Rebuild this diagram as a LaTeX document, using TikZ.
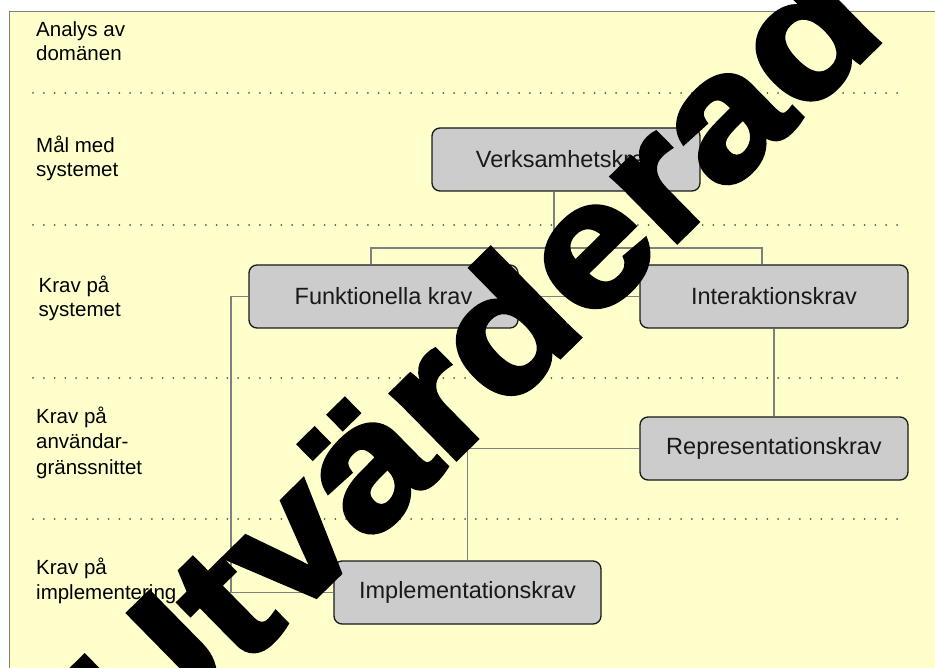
\documentclass[tikz,border=0pt]{standalone}
\usepackage{fontspec}
\setmainfont{Liberation Sans}
\newfontfamily\wmfont{Liberation Sans}[BoldFeatures={FakeStretch=1.15,FakeBold=3}]
\definecolor{bgyellow}{HTML}{FFFFCC}
\definecolor{boxgray}{HTML}{CCCCCC}
\definecolor{conngray}{HTML}{808080}
\definecolor{framegray}{HTML}{7F7F7F}
\pgfdeclarelayer{bg}
\pgfdeclarelayer{lines}
\pgfsetlayers{bg,lines,main}
\begin{document}
\begin{tikzpicture}[x=1pt,y=-1pt,
  box/.style={draw=black!90, line width=1.3pt, fill=boxgray, rounded corners=8pt,
    inner sep=0pt, minimum height=63pt, font=\fontsize{23.5}{28}\selectfont, text=black!90},
  lbl/.style={anchor=base west, inner sep=0pt, font=\fontsize{20.5}{25}\selectfont},
  conn/.style={draw=conngray, line width=1.5pt},
  sepline/.style={draw=black!65, line width=2pt, line cap=round, dash pattern=on 0pt off 10.8pt}]
\useasboundingbox (0,0) rectangle (935,668);
% background
\begin{pgfonlayer}{bg}
\fill[white] (0,0) rectangle (935,668);
\fill[bgyellow] (9,12) rectangle (935,668);
\draw[framegray, line width=1pt] (9,668) -- (9,12) -- (935,12);
\foreach \yy in {93,225,378,519} \draw[sepline] (33,\yy) -- (903,\yy);
\end{pgfonlayer}
% coordinates for connector routing
\coordinate (xa) at (371,0);
\coordinate (xb) at (231,0);
\coordinate (xi) at (762,0);
\coordinate (j1) at (554,248);
% boxes
\node[box, minimum width=268pt] (ver) at (566,159.5) {Verksamhetskrav};
\node[box, minimum width=269pt] (fun) at (383.5,296.5) {Funktionella krav};
\node[box, minimum width=268pt] (int) at (774,296.5) {Interaktionskrav};
\node[box, minimum width=268pt] (rep) at (774,448.5) {Representationskrav};
\node[box, minimum width=267pt] (imp) at (467.5,592.5) {Implementationskrav};
% connectors (behind boxes)
\begin{pgfonlayer}{lines}
\draw[conn] (ver.south -| j1) -- (j1);
\draw[conn] (fun.north -| xa) |- (j1) -| (int.north -| xi);
\draw[conn] (fun.east) -- (int.west);
\draw[conn] (fun.west) -| (imp.west -| xb) -- (imp.west);
\draw[conn] (int.south) -- (rep.north);
\draw[conn] (rep.west) -| (imp.north);
\end{pgfonlayer}
% labels
\node[lbl] (l1a) at (36,37) {Analys av};
\node[lbl] (l1b) at (36,61) {domänen};
\node[lbl] (l2a) at (36,153) {Mål med};
\node[lbl] (l2b) at (36,177) {systemet};
\node[lbl] (l3a) at (38.5,293) {Krav på};
\node[lbl] (l3b) at (38.5,317) {systemet};
\node[lbl] (l4a) at (36,424) {Krav på};
\node[lbl] (l4b) at (36,449) {användar-};
\node[lbl] (l4c) at (36,474) {gränssnittet};
\node[lbl] (l5a) at (36,574) {Krav på};
\node[lbl] (l5b) at (36,599) {implementering};
% watermark
\begin{scope}
\clip (0,0) rectangle (935,668);
\node[anchor=base east, inner sep=0pt, rotate=44.5, text=black,
  font=\wmfont\bfseries\fontsize{173}{180}\selectfont] (wm) at (888.4,33.7) {Utvärderad};
\end{scope}
\end{tikzpicture}
\end{document}
